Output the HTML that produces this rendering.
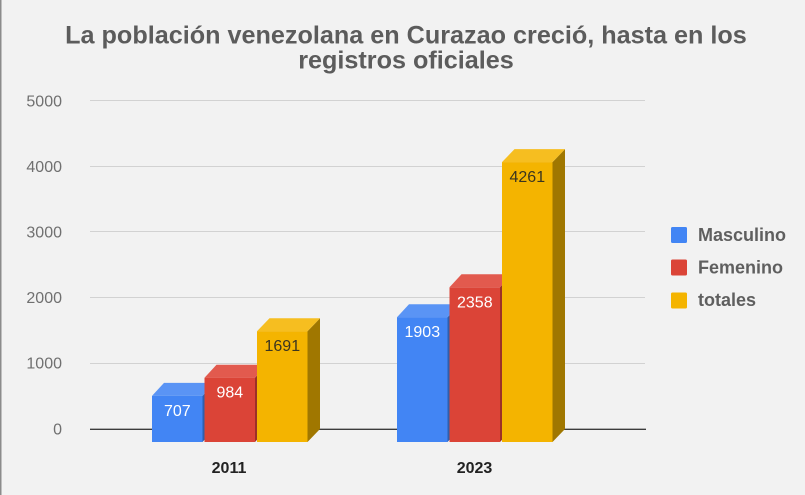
<!DOCTYPE html>
<html>
<head>
<meta charset="utf-8">
<style>
html,body{margin:0;padding:0;background:#f2f2f2;}
body{width:805px;height:495px;overflow:hidden;}
svg{display:block;}
text{font-family:"Liberation Sans",Arial,sans-serif;}
</style>
</head>
<body>
<svg width="805" height="495" viewBox="0 0 805 495" xmlns="http://www.w3.org/2000/svg">
  <rect x="0" y="0" width="805" height="495" fill="#f2f2f2"/>
  <rect x="0" y="0" width="1.5" height="495" fill="#8c8c8c"/>

  <!-- Title -->
  <text x="406" y="43.5" text-anchor="middle" font-size="25.2" font-weight="bold" fill="#5c5c5c">La población venezolana en Curazao creció, hasta en los</text>
  <text x="406" y="68.5" text-anchor="middle" font-size="25.2" font-weight="bold" fill="#5c5c5c">registros oficiales</text>

  <!-- Gridlines -->
  <g stroke="#d2d2d2" stroke-width="1">
    <line x1="90" y1="100.5" x2="645" y2="100.5"/>
    <line x1="90" y1="166.5" x2="645" y2="166.5"/>
    <line x1="90" y1="231.5" x2="645" y2="231.5"/>
    <line x1="90" y1="297.5" x2="645" y2="297.5"/>
    <line x1="90" y1="363.5" x2="645" y2="363.5"/>
  </g>
  <line x1="90" y1="429.3" x2="646" y2="429.3" stroke="#3c3c3c" stroke-width="1.4"/>

  <!-- Y tick labels -->
  <g font-size="16" fill="#707070" text-anchor="end">
    <text x="62" y="106.5">5000</text>
    <text x="62" y="172">4000</text>
    <text x="62" y="237.5">3000</text>
    <text x="62" y="303">2000</text>
    <text x="62" y="368.7">1000</text>
    <text x="62" y="434.5">0</text>
  </g>

  <!-- 2011 group -->
  <polygon points="202.5,395.9 214.5,382.9 214.5,429 202.5,442" fill="#2f5fae"/>
  <polygon points="152,395.9 202.5,395.9 214.5,382.9 164,382.9" fill="#5a94f5"/>
  <rect x="152" y="395.9" width="50.5" height="46.1" fill="#4285f4"/>
  <polygon points="255,377.7 267,364.7 267,429 255,442" fill="#9c3027"/>
  <polygon points="204.5,377.7 255,377.7 267,364.7 216.5,364.7" fill="#e25a4e"/>
  <rect x="204.5" y="377.7" width="50.5" height="64.3" fill="#db4437"/>
  <polygon points="307.5,331.2 320,318.2 320,429 307.5,442" fill="#a07700"/>
  <polygon points="257,331.2 307.5,331.2 320,318.2 269.5,318.2" fill="#f6be20"/>
  <rect x="257" y="331.2" width="50.5" height="110.8" fill="#f4b400"/>

  <!-- 2023 group -->
  <polygon points="447.5,317.2 459.5,304.2 459.5,429 447.5,442" fill="#2f5fae"/>
  <polygon points="397,317.2 447.5,317.2 459.5,304.2 409,304.2" fill="#5a94f5"/>
  <rect x="397" y="317.2" width="50.5" height="124.8" fill="#4285f4"/>
  <polygon points="500,287.3 512,274.3 512,429 500,442" fill="#9c3027"/>
  <polygon points="449.5,287.3 500,287.3 512,274.3 461.5,274.3" fill="#e25a4e"/>
  <rect x="449.5" y="287.3" width="50.5" height="154.7" fill="#db4437"/>
  <polygon points="552.5,162.1 565,149.1 565,429 552.5,442" fill="#a07700"/>
  <polygon points="502,162.1 552.5,162.1 565,149.1 514.5,149.1" fill="#f6be20"/>
  <rect x="502" y="162.1" width="50.5" height="279.9" fill="#f4b400"/>

  <!-- Bar labels -->
  <g font-size="16" text-anchor="middle">
    <text x="177.3" y="415.9" fill="#ffffff">707</text>
    <text x="229.8" y="397.7" fill="#ffffff">984</text>
    <text x="282.3" y="351.2" fill="#3a3520">1691</text>
    <text x="422.3" y="337.2" fill="#ffffff">1903</text>
    <text x="474.8" y="307.3" fill="#ffffff">2358</text>
    <text x="527.3" y="182.1" fill="#3a3520">4261</text>
  </g>

  <!-- X labels -->
  <g font-size="16" font-weight="bold" fill="#222222" text-anchor="middle">
    <text x="229" y="473">2011</text>
    <text x="474.5" y="473">2023</text>
  </g>

  <!-- Legend -->
  <rect x="671" y="227" width="16" height="16" rx="1.5" fill="#4285f4"/>
  <rect x="671" y="259.5" width="16" height="16" rx="1.5" fill="#db4437"/>
  <rect x="671" y="292.5" width="16" height="16" rx="1.5" fill="#f4b400"/>
  <g font-size="18" font-weight="bold" fill="#5f5f5f">
    <text x="698" y="241">Masculino</text>
    <text x="698" y="273.5">Femenino</text>
    <text x="698" y="306">totales</text>
  </g>
</svg>
</body>
</html>
